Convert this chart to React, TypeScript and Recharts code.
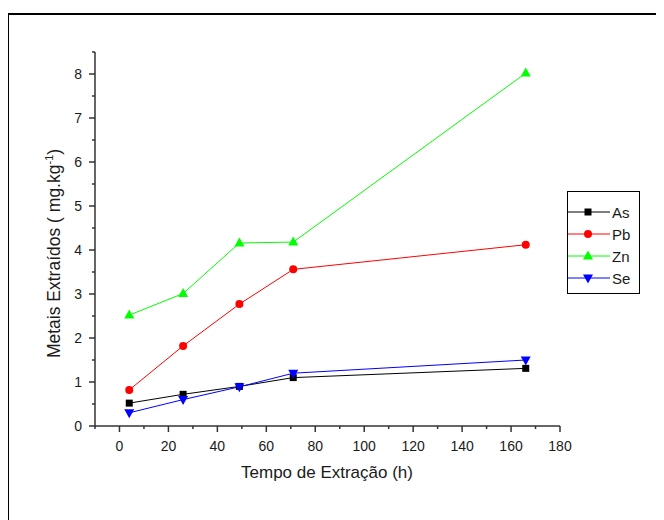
import React from 'react';
import { LineChart, Line, XAxis, YAxis, Legend } from 'recharts';

const timeH = [4, 26, 49, 71, 166];
const asVals = [0.52, 0.72, 0.9, 1.1, 1.31];
const pbVals = [0.82, 1.82, 2.77, 3.56, 4.12];
const znVals = [2.52, 3.01, 4.16, 4.18, 8.02];
const seVals = [0.3, 0.6, 0.89, 1.2, 1.5];

const xTicks = [-10, 0, 10, 20, 30, 40, 50, 60, 70, 80, 90, 100, 110, 120, 130, 140, 150, 160, 170, 180];
const yTicks = [0, 0.5, 1, 1.5, 2, 2.5, 3, 3.5, 4, 4.5, 5, 5.5, 6, 6.5, 7, 7.5, 8, 8.5];

const xTitle = 'Tempo de Extração (h)';
const yTitle = 'Metais Extraídos ( mg.kg';
const yTitleSup = '-1';

const FONT = '"Liberation Sans", Arial, Helvetica, sans-serif';
const AXIS = '#333';
const TXT = '#1a1a1a';

type Shape = 'square' | 'circle' | 'up' | 'down';

const series: { name: string; values: number[]; color: string; shape: Shape }[] = [
  { name: 'As', values: asVals, color: '#000000', shape: 'square' },
  { name: 'Pb', values: pbVals, color: '#ff0000', shape: 'circle' },
  { name: 'Zn', values: znVals, color: '#00ff00', shape: 'up' },
  { name: 'Se', values: seVals, color: '#0000ff', shape: 'down' },
];

const Marker = ({ cx, cy, shape, color }: { cx: number; cy: number; shape: Shape; color: string }) => {
  if (shape === 'square') return <rect x={cx - 3.5} y={cy - 3.5} width={7} height={7} fill={color} />;
  if (shape === 'circle') return <circle cx={cx} cy={cy} r={4} fill={color} />;
  if (shape === 'up')
    return <polygon points={`${cx},${cy - 5.5} ${cx + 5},${cy + 3.5} ${cx - 5},${cy + 3.5}`} fill={color} />;
  return <polygon points={`${cx},${cy + 5.5} ${cx + 5},${cy - 3.5} ${cx - 5},${cy - 3.5}`} fill={color} />;
};

const makeDot = (shape: Shape, color: string) => (props: any) => {
  const { cx, cy, index } = props;
  if (cx == null || cy == null) return <g key={index} />;
  return (
    <g key={index}>
      <Marker cx={cx} cy={cy} shape={shape} color={color} />
    </g>
  );
};

const XTick = (props: any) => {
  const { x, y, payload } = props;
  const v = payload.value;
  const major = v >= 0 && v % 20 === 0;
  return (
    <g>
      <line x1={x} x2={x} y1={y} y2={y + (major ? 6 : 3)} stroke={AXIS} strokeWidth={1.5} />
      {major && (
        <text x={x} y={y + 25} textAnchor="middle" fontSize={14} fill={TXT} fontFamily={FONT}>
          {v}
        </text>
      )}
    </g>
  );
};

const YTick = (props: any) => {
  const { x, y, payload } = props;
  const v = payload.value;
  const major = Math.abs(v - Math.round(v)) < 1e-9;
  return (
    <g>
      <line x1={x - (major ? 6 : 3)} x2={x} y1={y} y2={y} stroke={AXIS} strokeWidth={1.5} />
      {major && (
        <text x={x - 13} y={y + 5} textAnchor="end" fontSize={14} fill={TXT} fontFamily={FONT}>
          {v}
        </text>
      )}
    </g>
  );
};

const LegendBox = () => (
  <svg width={73} height={103} style={{ display: 'block' }}>
    <rect x={0.5} y={0.5} width={72} height={102} fill="#fff" stroke="#000" strokeWidth={1} />
    {series.map((s, i) => {
      const cy = 21 + i * 22;
      return (
        <g key={s.name}>
          <line x1={1} x2={43} y1={cy} y2={cy} stroke={s.color} strokeWidth={1} />
          <Marker cx={21} cy={cy} shape={s.shape} color={s.color} />
          <text x={45} y={cy + 5.5} fontSize={15} fill={TXT} fontFamily={FONT}>
            {s.name}
          </text>
        </g>
      );
    })}
  </svg>
);

export default function App() {
  return (
    <div style={{ position: 'relative', width: 656, height: 512, overflow: 'hidden', background: '#fff' }}>
      <div
        style={{
          position: 'absolute',
          left: -1,
          top: 5,
          width: 700,
          height: 600,
          border: '2px solid #000',
          boxSizing: 'border-box',
        }}
      />
      <div style={{ position: 'absolute', left: 0, top: 0 }}>
        <LineChart width={656} height={512} margin={{ top: 44, right: 104, bottom: 0, left: 0 }}>
          <XAxis
            type="number"
            dataKey="x"
            domain={[-10, 180]}
            ticks={xTicks}
            interval={0}
            allowDataOverflow
            height={94}
            tickSize={0}
            tickMargin={0}
            tickLine={false}
            axisLine={{ stroke: AXIS, strokeWidth: 1.5 }}
            tick={<XTick />}
            label={{
              content: () => (
                <text x={319} y={470} textAnchor="middle" fontSize={17} fill={TXT} fontFamily={FONT}>
                  {xTitle}
                </text>
              ),
            }}
          />
          <YAxis
            type="number"
            domain={[0, 8.5]}
            ticks={yTicks}
            interval={0}
            allowDataOverflow
            width={87}
            tickSize={0}
            tickMargin={0}
            tickLine={false}
            axisLine={{ stroke: AXIS, strokeWidth: 1.5 }}
            tick={<YTick />}
            label={{
              content: () => (
                <text
                  x={52}
                  y={245.5}
                  transform="rotate(-90, 52, 245.5)"
                  textAnchor="middle"
                  fontSize={17.5}
                  fill={TXT}
                  fontFamily={FONT}
                >
                  {yTitle}
                  <tspan dy={-7} fontSize={11}>
                    {yTitleSup}
                  </tspan>
                  <tspan dy={7}>)</tspan>
                </text>
              ),
            }}
          />
          {series.map((s) => (
            <Line
              key={s.name}
              name={s.name}
              data={timeH.map((t, i) => ({ x: t, y: s.values[i] }))}
              dataKey="y"
              type="linear"
              stroke={s.color}
              strokeWidth={1}
              dot={makeDot(s.shape, s.color)}
              activeDot={false}
              isAnimationActive={false}
            />
          ))}
          <Legend
            layout="vertical"
            align="center"
            verticalAlign="middle"
            content={() => <LegendBox />}
            wrapperStyle={{ position: 'absolute', left: 559, top: 183, width: 73, height: 103 }}
          />
        </LineChart>
      </div>
    </div>
  );
}
